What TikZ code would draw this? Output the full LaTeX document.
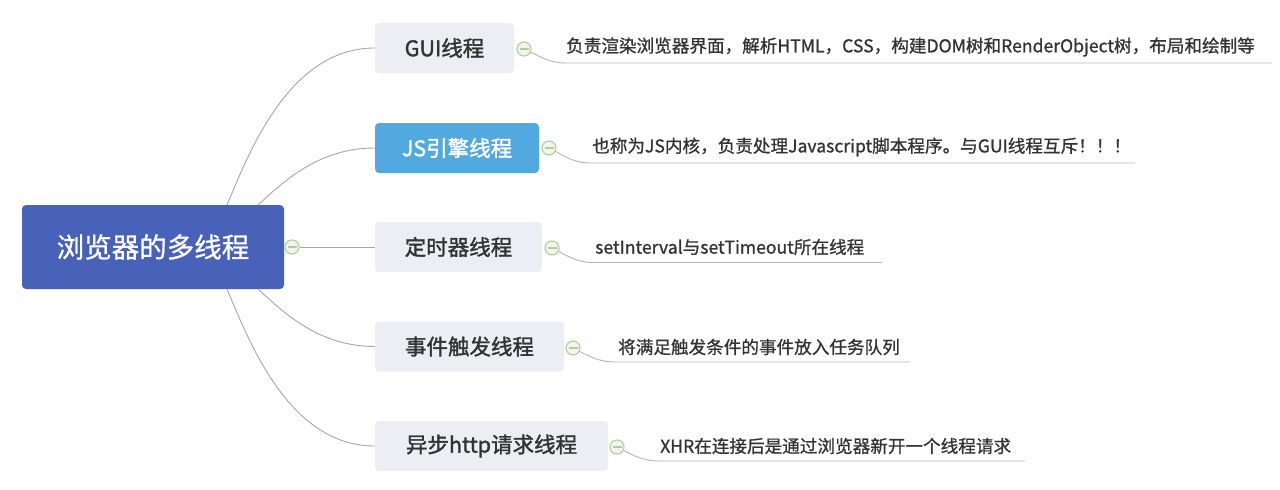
\documentclass[tikz,border=0pt]{standalone}
\usepackage{fontspec}
\setmainfont{Noto Sans CJK SC}
\newfontfamily\titlefont[FakeBold=1.6]{Noto Sans CJK SC}
\newfontfamily\descfont[FakeBold=0.9]{Noto Sans CJK SC}
\definecolor{rootblue}{HTML}{4861B9}
\definecolor{jsblue}{HTML}{52A9E0}
\definecolor{topicgray}{HTML}{EDEEF3}
\definecolor{textdark}{HTML}{333333}
\definecolor{linegray}{HTML}{A6A6A6}
\definecolor{ulgray}{HTML}{B4B4B4}
\definecolor{foldgreen}{HTML}{B3CC9E}
\definecolor{foldfill}{HTML}{F1F5EC}
\begin{document}
\begin{tikzpicture}[x=1pt,y=-1pt,
  conn/.style={draw=linegray, line width=0.9pt},
  uline/.style={draw=ulgray, line width=0.9pt},
  topic/.style={rounded corners=4pt, fill=topicgray, text=textdark, font=\titlefont\fontsize{21.5}{24}\selectfont, minimum height=50pt, inner sep=0pt},
  rootbox/.style={rounded corners=4pt, fill=rootblue, text=white, font=\descfont\fontsize{27.5}{30}\selectfont, minimum width=262pt, minimum height=84pt, inner sep=0pt},
  desc/.style={anchor=west, text=textdark, font=\descfont\fontsize{17.6}{20}\selectfont, inner sep=0pt},
  fold/.style={circle, draw=foldgreen, fill=foldfill, line width=1.1pt, minimum size=14pt, inner sep=0pt,
    path picture={\draw[foldgreen, line width=1.1pt] ([xshift=-4.5pt]path picture bounding box.center) -- ([xshift=4.5pt]path picture bounding box.center);}}
]
\useasboundingbox (0,0) rectangle (1280,490);

% root
\node[rootbox] (root) at (153,247) {浏览器的多线程};
\coordinate (rt1) at (227,205);
\coordinate (rt2) at (258,205);
\coordinate (rb1) at (227,289);
\coordinate (rb2) at (258,289);

% topics
\node[topic, minimum width=139pt] (gui) at (444.5,48) {GUI线程};
\node[topic, minimum width=164pt, fill=jsblue, text=white] (js) at (457,148) {JS引擎线程};
\node[topic, minimum width=167pt] (timer) at (458.5,247) {定时器线程};
\node[topic, minimum width=189pt] (event) at (469.5,346.5) {事件触发线程};
\node[topic, minimum width=233pt] (async) at (491.5,446) {异步http请求线程};

% root connectors
\draw[conn] (rt1) .. controls (250,150) and (290,48) .. (gui.west);
\draw[conn] (rt2) .. controls (285,180) and (320,148) .. (js.west);
\draw[conn] (rb1) .. controls (250,344) and (290,446) .. (async.west);
\draw[conn] (rb2) .. controls (285,314) and (320,346.5) .. (event.west);
\node[fold] (f0) at (292,247) {};
\draw[conn] (f0) -- (timer.west);

% descriptions
\node[desc] (d1) at (566,47) {负责渲染浏览器界面，解析HTML，CSS，构建DOM树和RenderObject树，布局和绘制等};
\node[desc] (d2) at (592,147) {也称为JS内核，负责处理Javascript脚本程序。与GUI线程互斥！！！};
\node[desc] (d3) at (595,247) {setInterval与setTimeout所在线程};
\node[desc] (d4) at (618,347) {将满足触发条件的事件放入任务队列};
\node[desc] (d5) at (660,446) {XHR在连接后是通过浏览器新开一个线程请求};

% underline ends
\coordinate (u1a) at (566,63);  \coordinate (u1b) at (1272,63);
\coordinate (u2a) at (591,163); \coordinate (u2b) at (1135,163);
\coordinate (u3a) at (594,262.5); \coordinate (u3b) at (882,262.5);
\coordinate (u4a) at (617,362); \coordinate (u4b) at (910,362);
\coordinate (u5a) at (660,461); \coordinate (u5b) at (1025,461);

\draw[uline] (524,49) .. controls (540,56) and (548,63) .. (u1a) -- (u1b);
\draw[uline] (549,148) .. controls (565,156) and (573,163) .. (u2a) -- (u2b);
\draw[uline] (552,248) .. controls (568,256) and (576,262.5) .. (u3a) -- (u3b);
\draw[uline] (573,348) .. controls (589,356) and (597,362) .. (u4a) -- (u4b);
\draw[uline] (617,447) .. controls (633,455) and (641,461) .. (u5a) -- (u5b);

% fold markers
\node[fold] (f1) at (524,49) {};
\node[fold] (f2) at (549,148) {};
\node[fold] (f3) at (552,248) {};
\node[fold] (f4) at (573,348) {};
\node[fold] (f5) at (617,447) {};
\end{tikzpicture}
\end{document}
